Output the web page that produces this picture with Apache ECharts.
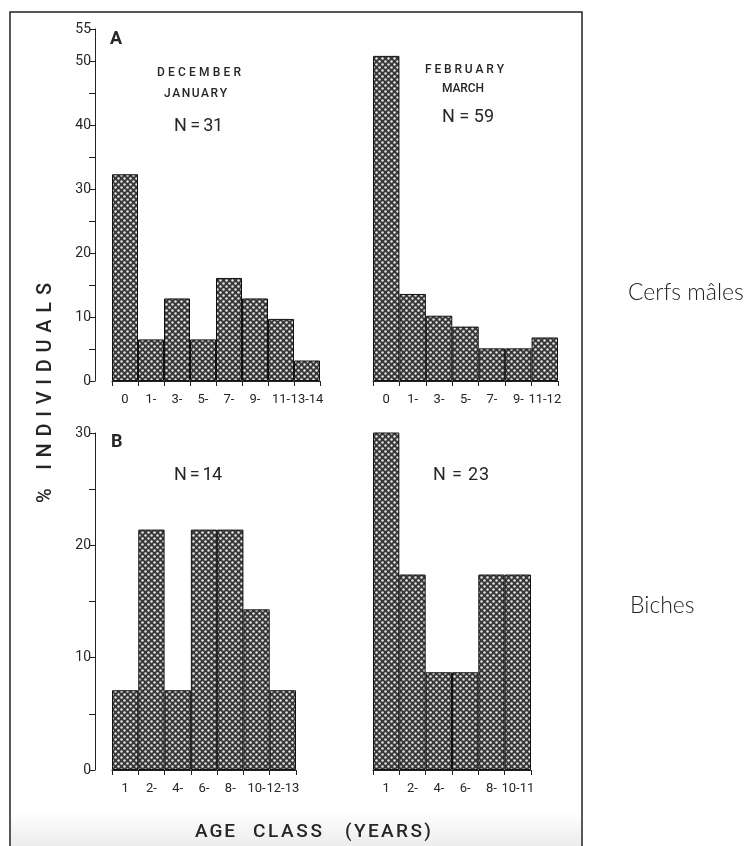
<!DOCTYPE html>
<html><head><meta charset="utf-8">
<script src="https://cdn.jsdelivr.net/npm/echarts@6/dist/echarts.min.js"></script>
<style>html,body{margin:0;padding:0;background:#fff}#c{width:754px;height:846px}</style>
</head><body><div id="c"></div>
<script>
// ---- data ----
const catsDecJan = ['0','1-','3-','5-','7-','9-','11-','13-14'];
const valsDecJan = [32.3, 6.5, 12.9, 6.5, 16.1, 12.9, 9.7, 3.2];
const catsFebMar = ['0','1-','3-','5-','7-','9-','11-12'];
const valsFebMar = [50.8, 13.6, 10.2, 8.5, 5.1, 5.1, 6.8];
const catsB1 = ['1','2-','4-','6-','8-','10-','12-13'];
const valsB1 = [7.1, 21.4, 7.1, 21.4, 21.4, 14.3, 7.1];
const catsB2 = ['1','2-','4-','6-','8-','10-11'];
const valsB2 = [30.4, 17.4, 8.7, 8.7, 17.4, 17.4];
const yLabelsA = [0, 10, 20, 30, 40, 50, 55];
const yLabelsB = [0, 10, 20, 30];

// ---- hatch pattern ----
function makePattern(){
  const c = document.createElement('canvas'); c.width = 6; c.height = 6;
  const x = c.getContext('2d');
  x.fillStyle = '#383838'; x.fillRect(0,0,6,6);
  x.fillStyle = '#e6e6e6';
  [[1.5,1.5],[4.5,4.5]].forEach(p=>{x.beginPath();x.arc(p[0],p[1],1.25,0,Math.PI*2);x.fill();});
  return c;
}
const pattern = {image: makePattern(), repeat: 'repeat'};

const TXT = '#262626';
const FONT = 'Roboto';
const mctx = document.createElement('canvas').getContext('2d');
function spaced(str, a0, a1, c, size, weight, vertical){
  const font = (weight||'normal') + ' ' + size + 'px ' + FONT;
  mctx.font = font;
  const ws = [...str].map(ch => mctx.measureText(ch).width);
  const tot = ws.reduce((s,v)=>s+v,0);
  const n = ws.length;
  const gap = n > 1 ? (Math.abs(a1-a0) - tot)/(n-1) : 0;
  const out = [];
  let pos = 0;
  [...str].forEach((ch,i)=>{
    if (ch !== ' ') {
      out.push(vertical ? {
        type:'text', x:c, y:a0 - pos, rotation:Math.PI/2,
        style:{text:ch, font:font, fill:TXT, align:'left', verticalAlign:'middle'}
      } : {
        type:'text', x:a0 + pos, y:c,
        style:{text:ch, font:font, fill:TXT, align:'left', verticalAlign:'middle'}
      });
    }
    pos += ws[i] + gap;
  });
  return out;
}

const grids = [
  {left:112, top:29, width:208, height:352},
  {left:373, top:29, width:185, height:352},
  {left:112, top:433, width:184, height:337},
  {left:373, top:433, width:158, height:337}
];
const cats = [catsDecJan, catsFebMar, catsB1, catsB2];
const vals = [valsDecJan, valsFebMar, valsB1, valsB2];

const xAxis = cats.map((d,i)=>({
  type:'category', gridIndex:i, data:d, boundaryGap:true,
  axisLine:{show:true, lineStyle:{color:'#222', width:1}},
  axisTick:{show:true, length:5, alignWithLabel:false, lineStyle:{color:'#222'}},
  axisLabel:{interval:0, margin:12, fontSize:13, color:TXT, fontFamily:FONT},
  splitLine:{show:false}
}));
const yAxis = [0,1,2,3].map(i=>{
  const top = i < 2;
  const labels = top ? yLabelsA : yLabelsB;
  return {
    type:'value', gridIndex:i, min:0, max: top ? 55 : 30, interval:5,
    show: i === 0 || i === 2, offset:17,
    axisLine:{show:true, lineStyle:{color:'#222', width:1}},
    axisTick:{show:true, length:6, inside:false, lineStyle:{color:'#222'}},
    axisLabel:{margin:4, fontSize:14, color:TXT, fontFamily:FONT,
      formatter: v => labels.indexOf(v) >= 0 ? String(v) : ''},
    splitLine:{show:false}
  };
});
const series = vals.map((v,i)=>({
  type:'bar', xAxisIndex:i, yAxisIndex:i, data:v,
  barWidth:'100%', barCategoryGap:0, silent:true,
  itemStyle:{color:pattern, borderColor:'#111', borderWidth:1}
}));

const graphic = [
  {type:'rect', shape:{x:11, y:812, width:570, height:34},
   style:{fill:{type:'linear',x:0,y:0,x2:0,y2:1,colorStops:[{offset:0,color:'#ffffff'},{offset:1,color:'#ececec'}]}}},
  {type:'polyline', shape:{points:[[10,846],[10,12],[582,12],[582,846]]},
   style:{stroke:'#222', lineWidth:1.5, fill:null}},
  {type:'text', x:110, y:39, style:{text:'A', font:'bold 18px '+FONT, fill:TXT, align:'left', verticalAlign:'middle'}},
  {type:'text', x:111, y:442, style:{text:'B', font:'bold 18px '+FONT, fill:TXT, align:'left', verticalAlign:'middle'}},
  {type:'text', x:628, y:293, style:{text:'Cerfs mâles', font:'300 23px Lato', fill:'#222', align:'left', verticalAlign:'middle'}},
  {type:'text', x:630, y:606, style:{text:'Biches', font:'300 23px Lato', fill:'#222', align:'left', verticalAlign:'middle'}}
].concat(
  spaced('DECEMBER', 157, 241, 73, 12, '500'),
  spaced('JANUARY', 164, 227, 94, 12, '500'),
  spaced('N = 31', 174, 223, 126, 18),
  spaced('FEBRUARY', 425, 504, 70, 12, '500'),
  spaced('MARCH', 442, 484, 89, 12, '500'),
  spaced('N = 59', 442, 494, 117, 18),
  spaced('N = 14', 174, 222, 475, 18),
  spaced('N = 23', 433, 489, 475, 18),
  spaced('AGE', 195, 235, 832, 19, '500'),
  spaced('CLASS', 253, 322, 832, 19, '500'),
  spaced('(YEARS)', 345, 431, 832, 19, '500'),
  spaced('% INDIVIDUALS', 503, 283, 46, 20, '500', true)
);

const chart = echarts.init(document.getElementById('c'), null, {renderer:'canvas'});
chart.setOption({
  animation:false, backgroundColor:'#fff',
  grid:grids, xAxis:xAxis, yAxis:yAxis, series:series, graphic:graphic
});
</script></body></html>
